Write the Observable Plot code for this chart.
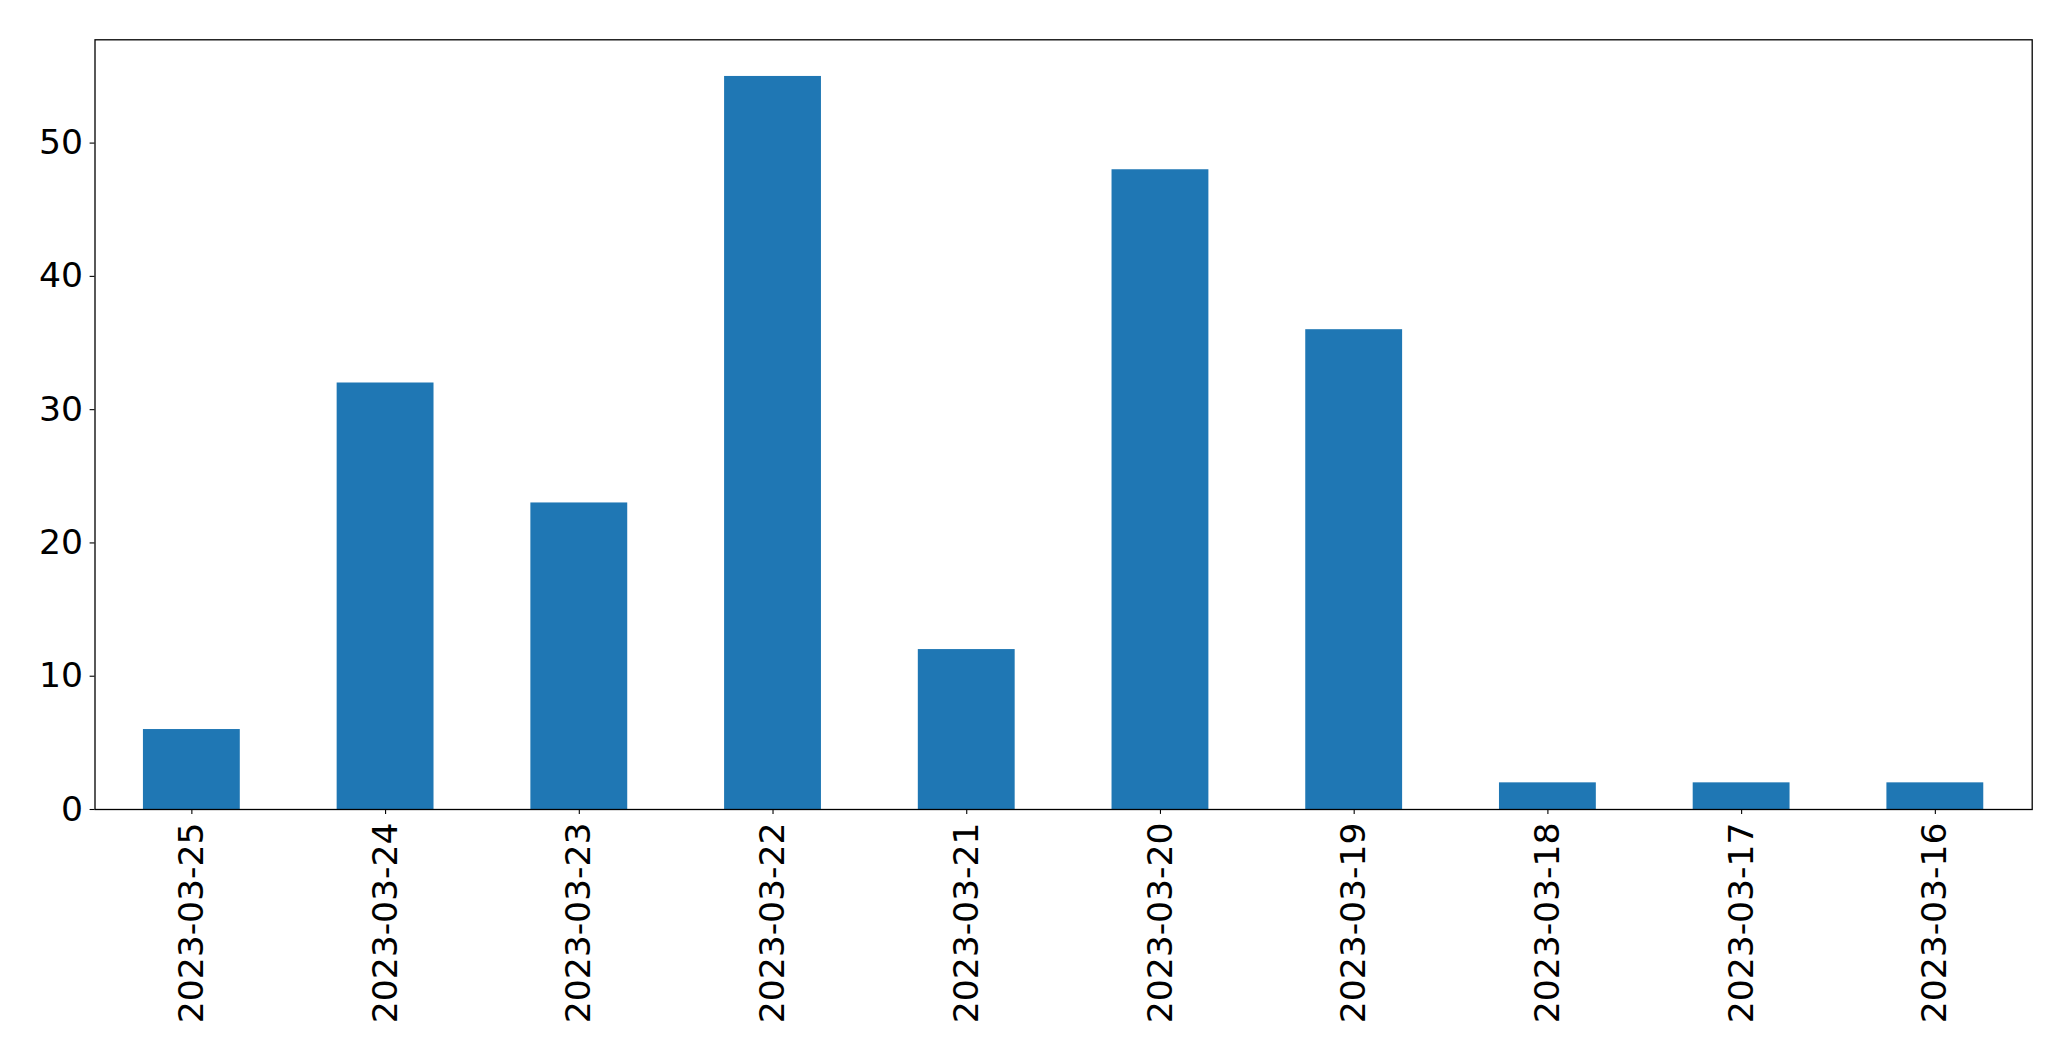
<!DOCTYPE html>
<html>
<head>
<meta charset="utf-8">
<script src="https://cdn.jsdelivr.net/npm/d3@7"></script>
<script src="https://cdn.jsdelivr.net/npm/@observablehq/plot@0.6"></script>
<style>
  html, body { margin: 0; padding: 0; background: #fff; }
  svg { display: block; }
</style>
</head>
<body>
<div id="chart"></div>
<script>
const dates = ["2023-03-25","2023-03-24","2023-03-23","2023-03-22","2023-03-21","2023-03-20","2023-03-19","2023-03-18","2023-03-17","2023-03-16"];
const counts = [6, 32, 23, 55, 12, 48, 36, 2, 2, 2];
const yTicks = [0, 10, 20, 30, 40, 50];

const data = dates.map((d, i) => ({date: d, count: counts[i]}));

const chart = Plot.plot({
  width: 2071,
  height: 1061,
  marginLeft: 94.5,
  marginRight: 39.3,
  marginTop: 39.3,
  marginBottom: 252,
  style: {fontFamily: "DejaVu Sans", fontSize: "34.6px", color: "#000", background: "#fff"},
  x: {type: "band", domain: dates, paddingInner: 0.5, paddingOuter: 0.25, round: false},
  y: {domain: [0, 57.75]},
  marks: [
    Plot.barY(data, {x: "date", y: "count", fill: "#1f77b4", inset: 0}),
    Plot.frame({stroke: "#000", strokeWidth: 1.3}),
    Plot.axisY({ticks: yTicks, tickSize: 4.9, tickPadding: 7, fontSize: 34.6, label: null, stroke: "#000", strokeWidth: 1.1}),
    Plot.axisX({tickRotate: -90, tickSize: 4.9, tickPadding: 8, fontSize: 34.6, label: null, stroke: "#000", strokeWidth: 1.1})
  ]
});
document.getElementById("chart").appendChild(chart);
</script>
</body>
</html>
